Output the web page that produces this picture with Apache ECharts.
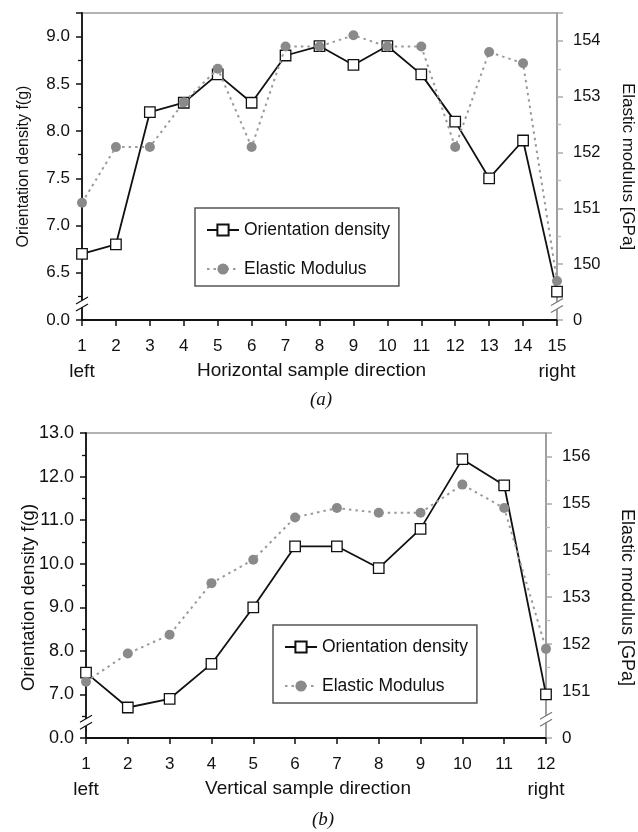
<!DOCTYPE html>
<html><head><meta charset="utf-8">
<script src="https://cdn.jsdelivr.net/npm/echarts@6/dist/echarts.min.js"></script>
<style>html,body{margin:0;padding:0;background:#fff}#c{width:638px;height:832px}</style>
</head><body><div id="c"></div>
<script>
// ---- data ----
const xLabelsA = ['1','2','3','4','5','6','7','8','9','10','11','12','13','14','15'];
const densityA = [6.7,6.8,8.2,8.3,8.6,8.3,8.8,8.9,8.7,8.9,8.6,8.1,7.5,7.9,6.3];
const modulusA = [151.1,152.1,152.1,152.9,153.5,152.1,153.9,153.9,154.1,153.9,153.9,152.1,153.8,153.6,149.7];
const xLabelsB = ['1','2','3','4','5','6','7','8','9','10','11','12'];
const densityB = [7.5,6.7,6.9,7.7,9.0,10.4,10.4,9.9,10.8,12.4,11.8,7.0];
const modulusB = [151.2,151.8,152.2,153.3,153.8,154.7,154.9,154.8,154.8,155.4,154.9,151.9];
const leftTicksA = ['0.0','6.5','7.0','7.5','8.0','8.5','9.0'];
const rightTicksA = ['0','150','151','152','153','154'];
const leftTicksB = ['0.0','7.0','8.0','9.0','10.0','11.0','12.0','13.0'];
const rightTicksB = ['0','151','152','153','154','155','156'];
const seriesNames = ['Orientation density','Elastic Modulus'];
const xNames = ['Horizontal sample direction','Vertical sample direction'];
const yNames = ['Orientation density f(g)','Elastic modulus [GPa]'];
const ends = ['left','right'];
const captions = ['(a)','(b)'];

const FONT = 'Liberation Sans';
const BLACK = '#111';
const chart = echarts.init(document.getElementById('c'), null, {renderer:'canvas'});

function tickFmt(min, interval, ticks){
  return function(v){
    const i = Math.round((v - min) / interval);
    if (Math.abs(v - (min + i*interval)) > 1e-6) return '';
    return ticks[i] !== undefined ? ticks[i] : '';
  };
}
function xAxisDef(grid, labels, name, fs, nameFs){
  const last = labels.length - 1;
  return {
    type:'category', gridIndex:grid, data:labels, boundaryGap:false,
    axisLine:{lineStyle:{color:BLACK, width:1.8}},
    axisTick:{show:true, inside:false, length:6, alignWithLabel:true, lineStyle:{color:BLACK, width:1.5}},
    axisLabel:{interval:0, hideOverlap:false, margin:15, color:BLACK, fontFamily:FONT,
      formatter:function(v, idx){
        if (idx === 0) return '{n|' + v + '}\n{s|' + ends[0] + '}';
        if (idx === last) return '{n|' + v + '}\n{s|' + ends[1] + '}';
        return '{n|' + v + '}';
      },
      rich:{ n:{fontSize:fs, fontFamily:FONT, color:BLACK, lineHeight:22},
             s:{fontSize:nameFs, fontFamily:FONT, color:BLACK, lineHeight:30} }
    },
    splitLine:{show:false},
    name:name, nameLocation:'middle', nameGap:41, nameMoveOverlap:false,
    nameTextStyle:{fontSize:nameFs, fontFamily:FONT, color:BLACK, padding:[0,16,0,0]}
  };
}
function yAxisDef(grid, pos, min, max, interval, ticks, name, fs, nameFs, nameGap, shift){
  const left = pos === 'left';
  const col = left ? BLACK : '#999';
  const pad = left ? [0, shift*2, 0, 0] : [0, 0, 0, shift*2];
  return {
    type:'value', gridIndex:grid, position:pos, min:min, max:max, interval:interval,
    axisLine:{show:true, lineStyle:{color:col, width:left?1.8:1.5}},
    axisTick:{show:true, inside:false, length:6, lineStyle:{color:left?BLACK:'#aaa', width:1.5}},
    minorTick:{show:true, splitNumber:2, length:4, lineStyle:{color:left?BLACK:'#bbb', width:1.3}},
    axisLabel:{color:BLACK, fontSize:fs, fontFamily:FONT, margin:left?12:16, formatter:tickFmt(min, interval, ticks), showMaxLabel:true, hideOverlap:false},
    splitLine:{show:false},
    name:name, nameLocation:'middle', nameRotate:left?90:-90, nameGap:nameGap, nameMoveOverlap:false,
    nameTextStyle:{fontSize:nameFs, fontFamily:FONT, color:BLACK, padding:pad}
  };
}
function densitySeries(xi, yi, data){
  return {name:seriesNames[0], type:'line', xAxisIndex:xi, yAxisIndex:yi, data:data,
    symbol:'rect', symbolSize:10.5, showAllSymbol:true,
    itemStyle:{color:'#fff', borderColor:BLACK, borderWidth:1.3},
    lineStyle:{color:BLACK, width:1.8}, z:3, animation:false};
}
function modulusSeries(xi, yi, data){
  return {name:seriesNames[1], type:'line', xAxisIndex:xi, yAxisIndex:yi, data:data,
    symbol:'circle', symbolSize:10, showAllSymbol:true,
    itemStyle:{color:'#8a8a8a', borderWidth:0},
    lineStyle:{color:'#9a9a9a', width:2, type:[2.5,4]}, z:4, animation:false};
}
function legendDef(left, top){
  return {orient:'vertical', left:left, top:top, padding:[13,9,8,11], itemGap:21,
    itemWidth:32, itemHeight:14, borderColor:'#555', borderWidth:1.5, backgroundColor:'#fff',
    selectedMode:false, textStyle:{fontSize:17.5, fontFamily:FONT, color:BLACK},
    data:seriesNames};
}

const option = {
  animation:false,
  backgroundColor:'#fff',
  grid:[
    {left:82, right:81, top:13, height:307, show:true, borderColor:'#999', borderWidth:1.5, containLabel:false, outerBoundsMode:'none'},
    {left:86, right:92, top:433, height:305, show:true, borderColor:'#999', borderWidth:1.5, containLabel:false, outerBoundsMode:'none'}
  ],
  xAxis:[ xAxisDef(0, xLabelsA, xNames[0], 17, 19), xAxisDef(1, xLabelsB, xNames[1], 17, 19) ],
  yAxis:[
    yAxisDef(0,'left', 6, 9.25, 0.5, leftTicksA, yNames[0], 17, 16, 50, 0),
    yAxisDef(0,'right',149,154.5, 1, rightTicksA, yNames[1], 16.5, 17, 62, 0),
    yAxisDef(1,'left', 6, 13, 1, leftTicksB, yNames[0], 18, 18.5, 48, 12),
    yAxisDef(1,'right',150,156.5, 1, rightTicksB, yNames[1], 17, 18, 72, 12)
  ],
  legend:[ legendDef(195, 208), legendDef(273, 625) ],
  series:[
    densitySeries(0,0,densityA), modulusSeries(0,1,modulusA),
    densitySeries(1,2,densityB), modulusSeries(1,3,modulusB)
  ]
};
chart.setOption(option);

// axis-break marks, positioned through the axis scales
const breaks = [
  {x:0, xi:0, yi:0, v:6.17}, {x:xLabelsA.length-1, xi:0, yi:1, v:149.26},
  {x:0, xi:1, yi:2, v:6.36}, {x:xLabelsB.length-1, xi:1, yi:3, v:150.4}
];
const g = [];
breaks.forEach(function(b){
  const px = chart.convertToPixel({xAxisIndex:b.xi}, b.x);
  const py = chart.convertToPixel({yAxisIndex:b.yi}, b.v);
  const col = b.yi % 2 === 0 ? BLACK : '#777';
  g.push({type:'polygon', shape:{points:[[px-6,py],[px+6,py-7],[px+6,py],[px-6,py+7]]}, style:{fill:'#fff'}, z:50});
  g.push({type:'line', shape:{x1:px-6,y1:py,x2:px+6,y2:py-7}, style:{stroke:col, lineWidth:1.2}, z:51});
  g.push({type:'line', shape:{x1:px-6,y1:py+7,x2:px+6,y2:py}, style:{stroke:col, lineWidth:1.2}, z:51});
});
g.push({type:'text', left:310, top:390, style:{text:captions[0], font:'italic 19px "Liberation Serif"', fill:BLACK}});
g.push({type:'text', left:312, top:810, style:{text:captions[1], font:'italic 19px "Liberation Serif"', fill:BLACK}});
chart.setOption({graphic:g});
</script>
</body></html>
